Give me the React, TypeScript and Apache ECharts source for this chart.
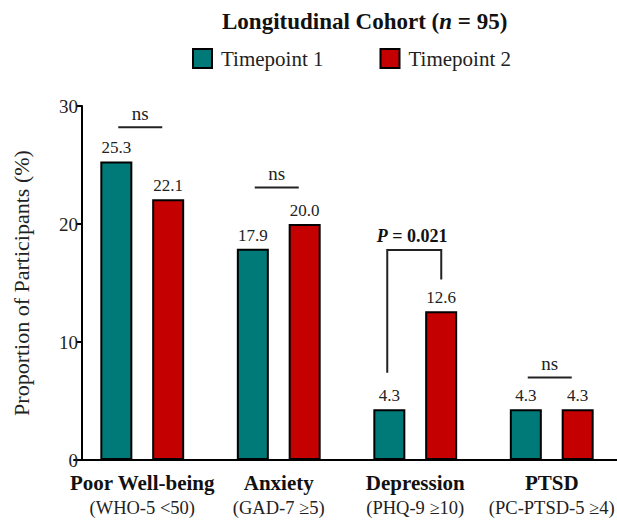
import React, { useEffect, useRef } from "react";
import * as echarts from "echarts";

const categories = ["Poor Well-being", "Anxiety", "Depression", "PTSD"];
const subLabels = ["(WHO-5 <50)", "(GAD-7 ≥5)", "(PHQ-9 ≥10)", "(PC-PTSD-5 ≥4)"];
const timepoint1 = [25.3, 17.9, 4.3, 4.3];
const timepoint2 = [22.1, 20.0, 12.6, 4.3];
const yTicks = [0, 10, 20, 30];
// significance annotations: [category index, bracket level, left leg end, right leg end]
const sigData = [
  [0, 28.2, 28.2, 28.2],
  [1, 23.1, 23.1, 23.1],
  [2, 17.8, 7.4, 15.3],
  [3, 7.0, 7.0, 7.0],
];
const sigLabels = ["ns", "ns", "P = 0.021", "ns"];
const sigIsBracket = [false, false, true, false];

const FONT = "Liberation Serif";

export default function App() {
  const ref = useRef<HTMLDivElement>(null);
  useEffect(() => {
    if (!ref.current) return;
    const chart = echarts.init(ref.current, null, { renderer: "svg" });
    const barStyle = (color: string) => ({
      color,
      borderColor: "#000",
      borderWidth: 2,
    });
    const labelStyle = {
      show: true,
      position: "top",
      distance: 5,
      fontFamily: FONT,
      fontSize: 17,
      color: "#222",
      formatter: (p: any) => Number(p.value).toFixed(1),
    };
    chart.setOption({
      animation: false,
      textStyle: { fontFamily: FONT },
      title: {
        text: "{b|Longitudinal Cohort (}{i|n}{b| = 95)}",
        left: 222,
        top: 10,
        padding: 0,
        textStyle: {
          rich: {
            b: { fontFamily: FONT, fontWeight: "bold", fontSize: 23, color: "#111" },
            i: { fontFamily: FONT, fontWeight: "bold", fontStyle: "italic", fontSize: 23, color: "#111" },
          },
        },
      },
      legend: {
        data: ["Timepoint 1", "Timepoint 2"],
        left: 192,
        top: 48,
        padding: 0,
        icon: "rect",
        itemWidth: 19,
        itemHeight: 19,
        itemGap: 56,
        textStyle: { fontFamily: FONT, fontSize: 21, color: "#222", padding: [0, 0, 0, 4] },
      },
      grid: { left: 74, right: -3, top: 106, bottom: 61, outerBoundsMode: "none" },
      xAxis: {
        type: "category",
        data: categories,
        boundaryGap: true,
        axisLine: { lineStyle: { color: "#000", width: 2 } },
        axisTick: { alignWithLabel: true, length: 7, lineStyle: { color: "#000", width: 2 } },
        axisLabel: {
          margin: 10,
          interval: 0,
          formatter: (v: string, i: number) => `{a|${v}}\n{b|${subLabels[i]}}`,
          rich: {
            a: { fontFamily: FONT, fontWeight: "bold", fontSize: 21, color: "#111", lineHeight: 25 },
            b: { fontFamily: FONT, fontSize: 18.5, color: "#222", lineHeight: 25 },
          },
        },
      },
      yAxis: {
        type: "value",
        min: yTicks[0],
        max: yTicks[yTicks.length - 1],
        interval: 10,
        offset: -8,
        name: "Proportion of Participants (%)",
        nameLocation: "middle",
        nameGap: 50,
        nameTextStyle: { fontFamily: FONT, fontSize: 22, color: "#222" },
        axisLine: { show: true, lineStyle: { color: "#000", width: 2 } },
        axisTick: { show: true, length: 6, lineStyle: { color: "#000", width: 2 } },
        axisLabel: { fontFamily: FONT, fontSize: 19, color: "#222", margin: 4 },
        splitLine: { show: false },
      },
      series: [
        {
          name: "Timepoint 1",
          type: "bar",
          data: timepoint1,
          barWidth: 32,
          barGap: "62%",
          itemStyle: barStyle("#007A78"),
          label: labelStyle,
        },
        {
          name: "Timepoint 2",
          type: "bar",
          data: timepoint2,
          barWidth: 32,
          itemStyle: barStyle("#C40000"),
          label: labelStyle,
        },
        {
          name: "sig",
          type: "custom",
          silent: true,
          clip: false,
          z: 10,
          data: sigData,
          renderItem: (params: any, api: any) => {
            const i = params.dataIndex;
            const cat = api.value(0);
            const top = api.coord([cat, api.value(1)]);
            const leftEnd = api.coord([cat, api.value(2)]);
            const rightEnd = api.coord([cat, api.value(3)]);
            const children: any[] = [];
            if (sigIsBracket[i]) {
              const off = 26;
              children.push({
                type: "polyline",
                shape: {
                  points: [
                    [top[0] - off - 2, leftEnd[1]],
                    [top[0] - off - 2, top[1]],
                    [top[0] + off, top[1]],
                    [top[0] + off, rightEnd[1]],
                  ],
                },
                style: { stroke: "#222", lineWidth: 2, fill: null },
              });
              children.push({
                type: "text",
                style: {
                  x: top[0] - 3,
                  y: top[1] - 5,
                  text: "{i|P}{b| = 0.021}",
                  align: "center",
                  verticalAlign: "bottom",
                  rich: {
                    i: { fontFamily: FONT, fontWeight: "bold", fontStyle: "italic", fontSize: 18, fill: "#111" },
                    b: { fontFamily: FONT, fontWeight: "bold", fontSize: 18, fill: "#111" },
                  },
                },
              });
            } else {
              const hw = 22;
              children.push({
                type: "line",
                shape: { x1: top[0] - hw - 2, y1: top[1], x2: top[0] + hw - 2, y2: top[1] },
                style: { stroke: "#222", lineWidth: 2 },
              });
              children.push({
                type: "text",
                style: {
                  x: top[0] - 2,
                  y: top[1] - 4,
                  text: sigLabels[i],
                  align: "center",
                  verticalAlign: "bottom",
                  fontFamily: FONT,
                  fontSize: 19,
                  fill: "#222",
                },
              });
            }
            return { type: "group", children };
          },
        },
      ],
    });
    return () => chart.dispose();
  }, []);
  return <div ref={ref} style={{ width: 617, height: 521, position: "absolute", left: 0, top: 0 }} />;
}
